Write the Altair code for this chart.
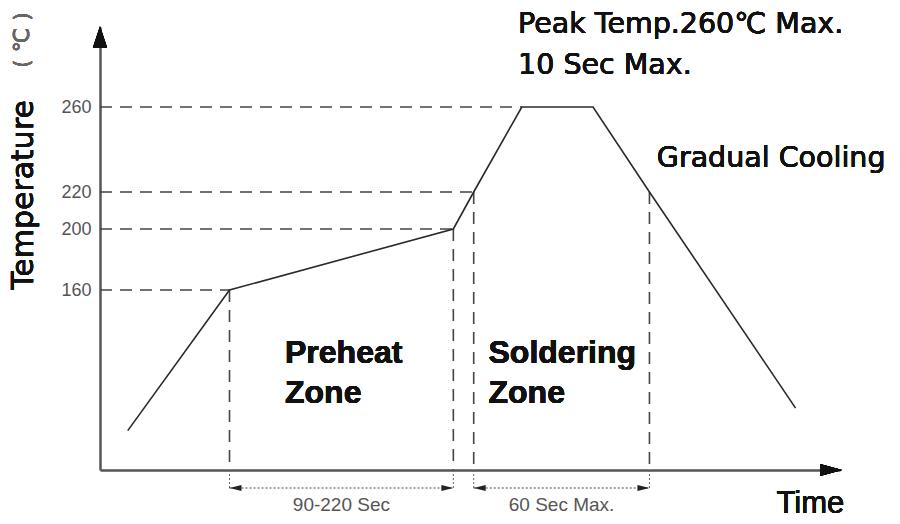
import altair as alt
import pandas as pd

# ---- data ----
profile_time = [15, 70, 191, 202, 228, 266.5, 297, 376]   # seconds (schematic)
profile_temp = [35, 160, 200, 220, 260, 260, 220, 55]      # deg C

hguide_temp = [160, 200, 220, 260]
hguide_time = [70, 191, 202, 228]

vguide_time = [70, 191, 202, 297]
vguide_temp = [160, 200, 220, 220]

zone_start = [70, 202]
zone_end = [191, 297]
zone_span_label = ["90-220 Sec", "60 Sec Max."]

ytick_values = [160, 200, 220, 260]

FONT = "DejaVu Sans"
BOLD = "Liberation Sans"
SMALL = "Liberation Sans"

W, H = 740, 443

xscale = alt.Scale(domain=[0, 400], nice=False, zero=False)
yscale = alt.Scale(domain=[0, 160, 200, 220, 260, 300],
                   range=[443, 263, 202, 165, 80, 0], nice=False, zero=False)

profile = pd.DataFrame({"t": profile_time, "T": profile_temp})
hg = pd.DataFrame({"t": hguide_time, "T": hguide_temp})
vg = pd.DataFrame({"t": vguide_time, "T": vguide_temp})
zones = pd.DataFrame({"a": zone_start, "b": zone_end, "label": zone_span_label})

base_axes = alt.Chart(profile).mark_line(color="#2a2a2a", strokeWidth=1.6).encode(
    x=alt.X("t:Q", scale=xscale,
            axis=alt.Axis(labels=False, ticks=False, grid=False, title=None,
                          domainColor="#555", domainWidth=2.5)),
    y=alt.Y("T:Q", scale=yscale,
            axis=alt.Axis(values=ytick_values, ticks=False, grid=False, title=None,
                          labelFont=SMALL, labelFontSize=18, labelColor="#555",
                          labelPadding=9, domainColor="#555", domainWidth=2.5)),
)

hlines = alt.Chart(hg).transform_calculate(t0="0").mark_rule(
    color="#444", strokeWidth=1.6, strokeDash=[12, 8]
).encode(x="t0:Q", x2="t:Q", y="T:Q")

vlines = alt.Chart(vg).transform_calculate(T0="0").mark_rule(
    color="#444", strokeWidth=1.6, strokeDash=[12, 8]
).encode(x="t:Q", y="T:Q", y2="T0:Q")

vext = alt.Chart(vg).mark_rule(color="#666", strokeWidth=1, strokeDash=[2, 2]).encode(
    x="t:Q", y=alt.value(H), y2=alt.value(H + 18)
)

dim = alt.Chart(zones).mark_rule(color="#444", strokeWidth=1.2, strokeDash=[2, 2]).encode(
    x="a:Q", x2="b:Q", y=alt.value(H + 18)
)

arr_l = alt.Chart(zones).mark_point(
    shape="M-1,0L1,-0.5L1,0.5Z", filled=True, color="#222", size=144, opacity=1, xOffset=6
).encode(x="a:Q", y=alt.value(H + 18))

arr_r = alt.Chart(zones).mark_point(
    shape="M1,0L-1,-0.5L-1,0.5Z", filled=True, color="#222", size=144, opacity=1, xOffset=-6
).encode(x="b:Q", y=alt.value(H + 18))

span_text = alt.Chart(zones).transform_calculate(mid="(datum.a + datum.b) / 2").mark_text(
    font=SMALL, fontSize=19, color="#555", baseline="middle", align="center"
).encode(x="mid:Q", y=alt.value(H + 35), text="label:N")

yarrow = alt.Chart(profile).mark_point(
    shape="M0,-1L0.67,1L-0.67,1Z", filled=True, color="#111", size=441, opacity=1, yOffset=10
).encode(x=alt.datum(0), y=alt.datum(300))

xarrow = alt.Chart(profile).mark_point(
    shape="M1,0L-1,-0.55L-1,0.55Z", filled=True, color="#111", size=484, opacity=1, xOffset=-9
).encode(x=alt.datum(400), y=alt.datum(0))


def label(text, x, y, size, color="#111", align="left", baseline="alphabetic",
          weight="normal", font=FONT, angle=0, line_height=None, xval=False):
    kw = dict(text=text, fontSize=size, color=color, align=align, baseline=baseline,
              fontWeight=weight, font=font, angle=angle, lineBreak="\n")
    if line_height:
        kw["lineHeight"] = line_height
    return alt.Chart(profile).mark_text(**kw).encode(
        x=alt.value(x) if xval else alt.datum(x), y=alt.value(y)
    )


texts = [
    label("Peak Temp.260℃ Max.\n10 Sec Max.", 226, 6, 28.5, line_height=41),
    label("Gradual Cooling", 301, 140, 28.5),
    label("Preheat\nZone", 100, 336, 32, weight="bold", font=BOLD, line_height=40),
    label("Soldering\nZone", 210, 336, 32, weight="bold", font=BOLD, line_height=40),
    label("Time", 384, H + 43, 31, align="center", font="Liberation Sans"),
    label("Temperature", -76, 168, 30, align="center", baseline="middle", angle=270, xval=True),
    label("( ℃ )", -78, 13, 22, color="#666", align="center", baseline="middle",
          angle=270, xval=True),
]

chart = alt.layer(
    hlines, vlines, vext, dim, arr_l, arr_r, span_text, base_axes, yarrow, xarrow, *texts
).properties(
    width=W, height=H,
    padding={"left": 100, "top": 27, "right": 60, "bottom": 54},
    autosize=alt.AutoSizeParams(type="none"),
    background="white",
).configure_view(stroke=None)

chart.save("out.html", embed_options={"renderer": "svg", "actions": False})
